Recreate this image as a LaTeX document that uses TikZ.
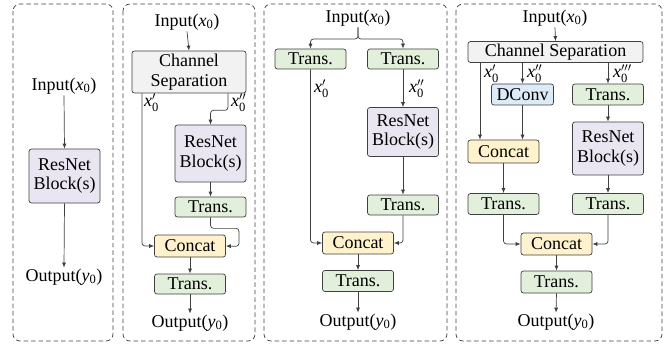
\documentclass[tikz,border=0pt]{standalone}
\usepackage{amsmath}
\usepackage{fontspec}
\setmainfont{Liberation Serif}
\usetikzlibrary{arrows.meta}
\definecolor{transfill}{HTML}{E2EFDA}
\definecolor{catfill}{HTML}{FFF2CC}
\definecolor{resfill}{HTML}{E9E6F2}
\definecolor{sepfill}{HTML}{F2F2F2}
\definecolor{dconvfill}{HTML}{DDEBF7}
\definecolor{edge}{HTML}{404040}
\tikzset{
      blockbox/.style={
        draw=edge,
        rounded corners=2.5pt,
        line width=0.7pt,
        inner sep=0pt,
        align=center,
        minimum width=71pt,
        minimum height=21pt
      },
      transbox/.style={blockbox, fill=transfill},
      concatbox/.style={blockbox, fill=catfill, minimum height=22pt},
      resbox/.style={blockbox, fill=resfill, minimum height=54pt},
      sepbox/.style={blockbox, fill=sepfill},
      dconvbox/.style={blockbox, fill=dconvfill, minimum width=62pt},
      iotext/.style={inner sep=1pt},
      branchlabel/.style={anchor=west, inner sep=0pt},
      flow/.style={draw=edge, line width=0.7pt, rounded corners=3pt, -{Latex[length=5pt,width=4pt]}},
      panelframe/.style={draw=edge, line width=0.7pt, dash pattern=on 4.5pt off 3pt, rounded corners=7pt}
    }
\newcommand{\inputx}{Input(\textit{x}\textsubscript{0})}
\newcommand{\outputy}{Output(\textit{y}\textsubscript{0})}

\begin{document}
\begin{tikzpicture}[x=1pt,y=-1pt,font=\rmfamily\fontsize{18}{19.5}\selectfont]
    \useasboundingbox (0,0) rectangle (665,345);
    % dashed frames
    \draw[panelframe] (13,4) rectangle (113,341);
    \draw[panelframe] (123,4) rectangle (255,341);
    \draw[panelframe] (264,4) rectangle (447,341);
    \draw[panelframe] (456,4) rectangle (662,341);

    % plain block
    \node[iotext] (in1) at (64,86) {\inputx};
    \node[resbox] (res1) at (64.5,176) {ResNet\\Block(s)};
    \node[iotext] (out1) at (64,277) {\outputy};
    \draw[flow] (in1.south) -- (res1.north);
    \draw[flow] (res1.south) -- (out1.north);

    % channel split, one path through the block
    \node[iotext] (in2) at (187,22) {\inputx};
    \node[sepbox, minimum width=114pt, minimum height=42pt] (sep2) at (189,72) {Channel\\Separation};
    \node[resbox, minimum height=57pt] (res2) at (210.5,153.5) {ResNet\\Block(s)};
    \node[transbox, minimum height=20pt] (tr2a) at (210.5,207) {Trans.};
    \node[concatbox] (cat2) at (190,246) {Concat};
    \node[transbox, minimum height=20pt] (tr2b) at (190,284) {Trans.};
    \node[iotext] (out2) at (190,323) {\outputy};
    \node[branchlabel] (lb2a) at (144,103) {$\textit{x}'_{\text{0}}$};
    \node[branchlabel] (lb2b) at (231,103) {$\textit{x}''_{\text{0}}$};
    \draw[flow] (in2.south) -- (sep2.north);
    \draw[flow] ([xshift=-47pt]sep2.south) |- (cat2.west);
    \draw[flow] ([xshift=39pt]sep2.south) -- ++(0,17) -| (res2.north);
    \draw[flow] (res2.south) -- (tr2a.north);
    \draw[flow] (tr2a.south) -- ++(0,11) -| ++(28.5,18) -- (cat2.east);
    \draw[flow] (cat2.south) -- (tr2b.north);
    \draw[flow] (tr2b.south) -- (out2.north);

    % two transition branches
    \node[iotext] (in3) at (358,18) {\inputx};
    \node[transbox, minimum height=20pt] (tr3a) at (310.5,59) {Trans.};
    \node[transbox, minimum height=20pt] (tr3b) at (403,59) {Trans.};
    \node[resbox, minimum height=49pt] (res3) at (403,132) {ResNet\\Block(s)};
    \node[transbox, minimum height=20pt] (tr3c) at (403,205) {Trans.};
    \node[concatbox] (cat3) at (358,243) {Concat};
    \node[transbox, minimum height=21pt] (tr3d) at (358,281) {Trans.};
    \node[iotext] (out3) at (358,322) {\outputy};
    \node[branchlabel] (lb3a) at (314,89) {$\textit{x}'_{\text{0}}$};
    \node[branchlabel] (lb3b) at (409,89) {$\textit{x}''_{\text{0}}$};
    \draw[flow] (in3.south) -- (358,39) -| (tr3a.north);
    \draw[flow] (in3.south) -- (358,39) -| (tr3b.north);
    \draw[flow] (tr3a.south) |- (cat3.west);
    \draw[flow] (tr3b.south) -- (res3.north);
    \draw[flow] (res3.south) -- (tr3c.north);
    \draw[flow] (tr3c.south) |- (cat3.east);
    \draw[flow] (cat3.south) -- (tr3d.north);
    \draw[flow] (tr3d.south) -- (out3.north);

    % three-way split with depthwise conv
    \node[iotext] (in4) at (555,18) {\inputx};
    \node[sepbox, minimum width=175pt] (sep4) at (555.5,52) {Channel Separation};
    \node[dconvbox] (dconv) at (522.5,94.5) {DConv};
    \node[transbox] (tr4a) at (608,94.5) {Trans.};
    \node[resbox, minimum height=53pt] (res4) at (608,148.5) {ResNet\\Block(s)};
    \node[transbox] (tr4b) at (608,204) {Trans.};
    \node[concatbox, minimum height=23pt] (cat4a) at (503.5,151.5) {Concat};
    \node[transbox] (tr4c) at (503.5,204) {Trans.};
    \node[concatbox] (cat4b) at (556.5,244) {Concat};
    \node[transbox, minimum height=22pt] (tr4d) at (556.5,282) {Trans.};
    \node[iotext] (out4) at (556,322) {\outputy};
    \node[branchlabel] (lb4a) at (484,74) {$\textit{x}'_{\text{0}}$};
    \node[branchlabel] (lb4b) at (527,74) {$\textit{x}''_{\text{0}}$};
    \node[branchlabel] (lb4c) at (613,74) {$\textit{x}'''_{\text{0}}$};
    \draw[flow] (in4.south) -- (sep4.north);
    \draw[flow] ([xshift=-75.5pt]sep4.south) -- ([xshift=-23.5pt]cat4a.north);
    \draw[flow] (sep4.south -| dconv.north) -- (dconv.north);
    \draw[flow] (sep4.south -| tr4a.north) -- (tr4a.north);
    \draw[flow] (dconv.south) -- (dconv.south |- cat4a.north);
    \draw[flow] (tr4a.south) -- (res4.north);
    \draw[flow] (res4.south) -- (tr4b.north);
    \draw[flow] (cat4a.south) -- (tr4c.north);
    \draw[flow] (tr4c.south) |- (cat4b.west);
    \draw[flow] (tr4b.south) |- (cat4b.east);
    \draw[flow] (cat4b.south) -- (tr4d.north);
    \draw[flow] (tr4d.south) -- (out4.north);
\end{tikzpicture}
\end{document}
